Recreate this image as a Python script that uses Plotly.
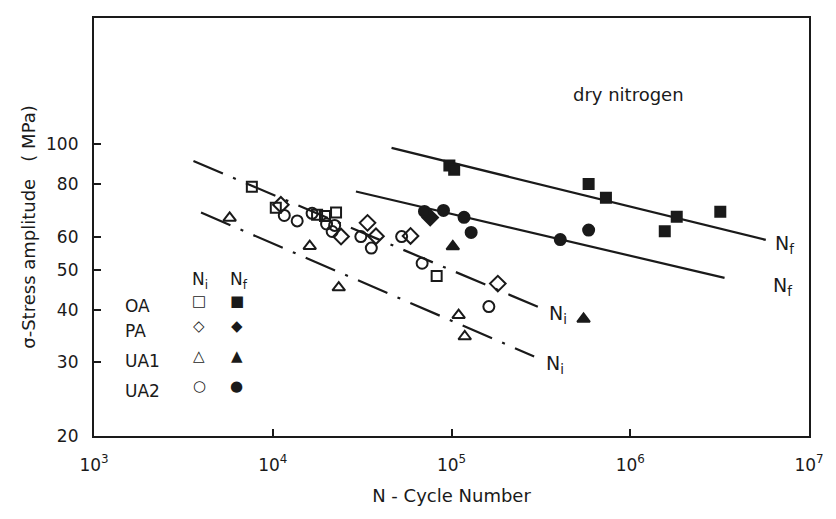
import math
import plotly.graph_objects as go

# ---- data ----
oa_ni_x = [7640, 10400, 17700, 19600, 22600, 82600]
oa_ni_y = [78.9, 70.3, 67.7, 67.2, 68.5, 48.3]

pa_ni_x = [11100, 24100, 33900, 37800, 59000, 181600]
pa_ni_y = [71.5, 60.0, 64.7, 60.1, 60.2, 46.3]

ua1_ni_x = [5740, 16100, 23400, 109600, 118600]
ua1_ni_y = [66.5, 56.9, 45.3, 38.9, 34.6]

ua2_ni_x = [11600, 13700, 16600, 20000, 22200, 21500, 31100, 35600, 52600, 68500, 161800]
ua2_ni_y = [67.4, 65.4, 68.2, 64.3, 63.8, 61.7, 60.0, 56.3, 60.0, 51.8, 40.8]

oa_nf_x = [97300, 103500, 585000, 731000, 1560000, 1820000, 3190000]
oa_nf_y = [88.7, 86.7, 80.2, 74.3, 61.8, 66.9, 68.8]

pa_nf_x = [76000]
pa_nf_y = [66.6]

ua1_nf_x = [101700, 548000]
ua1_nf_y = [56.8, 38.1]

ua2_nf_x = [70600, 90200, 117500, 128800, 406000, 585000]
ua2_nf_y = [68.9, 69.3, 66.7, 61.4, 59.0, 62.2]

# fitted lines (end points)
nf_upper_x = [46200, 5730000]
nf_upper_y = [97.8, 58.9]
nf_lower_x = [29200, 3370000]
nf_lower_y = [76.9, 47.8]
ni_upper_x = [3600, 310000]
ni_upper_y = [91.0, 40.6]
ni_lower_x = [3970, 290000]
ni_lower_y = [68.5, 31.0]

x_tickvals = [1e3, 1e4, 1e5, 1e6, 1e7]
x_ticktext = ["10<sup>3</sup>", "10<sup>4</sup>", "10<sup>5</sup>", "10<sup>6</sup>", "10<sup>7</sup>"]
y_tickvals = [20, 30, 40, 50, 60, 80, 100]

legend_rows = ["OA", "PA", "UA1", "UA2"]
legend_open = ["□", "◇", "△", "○"]
legend_filled = ["■", "◆", "▲", "●"]

INK = "#1a1a1a"
FONT = "DejaVu Sans"

fig = go.Figure()

# lines
for lx, ly, dash in [(nf_upper_x, nf_upper_y, "solid"), (nf_lower_x, nf_lower_y, "solid"),
                     (ni_upper_x, ni_upper_y, "32px,11px,3px,11px"),
                     (ni_lower_x, ni_lower_y, "32px,11px,3px,11px")]:
    fig.add_trace(go.Scatter(x=lx, y=ly, mode="lines",
                             line=dict(color=INK, width=2.2, dash=dash),
                             showlegend=False, hoverinfo="skip"))

def pts(x, y, sym, size):
    fig.add_trace(go.Scatter(x=x, y=y, mode="markers", showlegend=False,
                             marker=dict(symbol=sym, size=size, color=INK,
                                         line=dict(color=INK, width=2))))

pts(oa_ni_x, oa_ni_y, "square-open", 10)
pts(pa_ni_x, pa_ni_y, "diamond-open", 12)
pts(ua1_ni_x, ua1_ni_y, "triangle-up-open", 11)
pts(ua2_ni_x, ua2_ni_y, "circle-open", 11)
pts(oa_nf_x, oa_nf_y, "square", 10)
pts(pa_nf_x, pa_nf_y, "diamond", 12)
pts(ua1_nf_x, ua1_nf_y, "triangle-up", 11)
pts(ua2_nf_x, ua2_nf_y, "circle", 11)

ann = []
def txt(x, y, t, size=18, xanchor="center"):
    ann.append(dict(x=x, y=y, xref="x", yref="y", text=t, showarrow=False,
                    xanchor=xanchor, font=dict(size=size, color=INK, family=FONT)))

txt(math.log10(976000), math.log10(131), "dry nitrogen", 18)
txt(math.log10(7300000), math.log10(57.4), "N<sub>f</sub>", 19)
txt(math.log10(7100000), math.log10(45.5), "N<sub>f</sub>", 19)
txt(math.log10(394000), math.log10(39.0), "N<sub>i</sub>", 19)
txt(math.log10(378000), math.log10(29.6), "N<sub>i</sub>", 19)

# legend block
txt(math.log10(3900), math.log10(47.1), "N<sub>i</sub>", 17)
txt(math.log10(6500), math.log10(47.1), "N<sub>f</sub>", 17)
row_y = [42.0, 36.7, 31.0, 26.4]
for lab, o, f, yy in zip(legend_rows, legend_open, legend_filled, row_y):
    txt(math.log10(1450), math.log10(yy) - 0.012, lab, 17, "left")
    txt(math.log10(3890), math.log10(yy), o, 15)
    txt(math.log10(6300), math.log10(yy), f, 15)

fig.update_layout(
    width=836, height=519,
    margin=dict(l=94, r=22, t=18, b=83),
    paper_bgcolor="white", plot_bgcolor="white",
    font=dict(family=FONT, size=17, color=INK),
    annotations=ann,
    xaxis=dict(type="log", range=[3, 7], tickvals=x_tickvals, ticktext=x_ticktext,
               ticks="inside", ticklen=7, tickwidth=1.6, tickcolor=INK,
               showline=True, mirror=True, linewidth=2.2, linecolor=INK,
               showgrid=False, zeroline=False, ticklabelstandoff=12,
               tickfont=dict(size=17, family=FONT, color=INK),
               title=dict(text="N - Cycle Number", standoff=16,
                          font=dict(size=18, family=FONT, color=INK))),
    yaxis=dict(type="log", range=[math.log10(20), math.log10(200)], tickvals=y_tickvals,
               ticktext=[str(v) for v in y_tickvals],
               ticks="inside", ticklen=7, tickwidth=1.6, tickcolor=INK,
               showline=True, mirror=True, linewidth=2.2, linecolor=INK,
               showgrid=False, zeroline=False, ticklabelstandoff=10,
               tickfont=dict(size=17, family=FONT, color=INK),
               title=dict(text="σ-Stress amplitude   ( MPa)", standoff=6,
                          font=dict(size=18, family=FONT, color=INK))),
)

fig.write_html("out.html", config={"displayModeBar": False},
               post_script="document.body.style.margin='0';document.body.style.padding='0';")
